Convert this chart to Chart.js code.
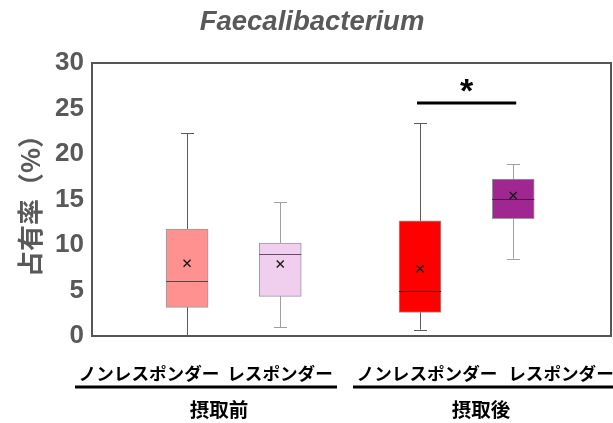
<!DOCTYPE html>
<html>
<head>
<meta charset="utf-8">
<script src="https://cdn.jsdelivr.net/npm/chart.js@4.4.0/dist/chart.umd.min.js"></script>
<style>
  html, body { margin: 0; padding: 0; background: #fff; }
  #wrap { width: 613px; height: 423px; }
</style>
</head>
<body>
<div id="wrap"><canvas id="myChart"></canvas></div>
<script>
const categories = ['ノンレスポンダー', 'レスポンダー', 'ノンレスポンダー', 'レスポンダー'];
const groups = ['摂取前', '摂取後'];
const groupIndex = [0, 0, 1, 1];
const minValues = [0.1, 0.95, 0.7, 8.5];
const q1Values = [3.15, 4.35, 2.6, 12.9];
const medianValues = [6.05, 9.0, 5.0, 15.05];
const q3Values = [11.75, 10.2, 12.65, 17.25];
const maxValues = [22.3, 14.7, 23.4, 18.9];
const meanValues = [8.0, 7.9, 7.4, 15.45];
const yTicks = [0, 5, 10, 15, 20, 25, 30];
const sigPair = [2, 3];
const sigLevel = 25.6;
const sigLabel = '*';

const boxColors = ['rgb(255, 145, 145)', 'rgb(240, 206, 238)', 'rgb(255, 0, 0)', 'rgb(160, 38, 145)'];
const whiskerColors = ['#5a5a5a', '#a0a0a0', '#5a5a5a', '#a0a0a0'];
const medianColors = ['#4a4a4a', '#6a4a6a', '#7a0000', '#5a1050'];
const gray = '#595959';

// box centres on a linear axis, with an extra half step between the two groups
const positions = categories.map((c, i) => i + 1 + groupIndex[i] * 0.5);

const boxPlugin = {
    id: 'boxExtras',
    beforeDatasetsDraw(chart) {
        const {ctx, scales: {x, y}} = chart;
        ctx.save();
        positions.forEach((p, i) => {
            const px = Math.round(x.getPixelForValue(p)) + 0.5;
            ctx.strokeStyle = whiskerColors[i];
            ctx.lineWidth = 1;
            ctx.beginPath();
            ctx.moveTo(px, y.getPixelForValue(maxValues[i]));
            ctx.lineTo(px, y.getPixelForValue(minValues[i]));
            [maxValues[i], minValues[i]].forEach(v => {
                const py = Math.round(y.getPixelForValue(v)) + 0.5;
                ctx.moveTo(px - 6.5, py);
                ctx.lineTo(px + 6.5, py);
            });
            ctx.stroke();
        });
        ctx.restore();
    },
    afterDatasetsDraw(chart) {
        const {ctx, chartArea, scales: {x, y}} = chart;
        ctx.save();
        positions.forEach((p, i) => {
            const px = x.getPixelForValue(p);
            const my = Math.round(y.getPixelForValue(medianValues[i])) + 0.5;
            ctx.strokeStyle = medianColors[i];
            ctx.lineWidth = 1;
            ctx.beginPath();
            ctx.moveTo(px - 21, my);
            ctx.lineTo(px + 21, my);
            ctx.stroke();
            // mean marker
            const ay = y.getPixelForValue(meanValues[i]);
            ctx.strokeStyle = '#1a1a1a';
            ctx.lineWidth = 1.4;
            ctx.beginPath();
            ctx.moveTo(px - 3.5, ay - 3.5);
            ctx.lineTo(px + 3.5, ay + 3.5);
            ctx.moveTo(px + 3.5, ay - 3.5);
            ctx.lineTo(px - 3.5, ay + 3.5);
            ctx.stroke();
        });

        // significance bar
        const sx1 = x.getPixelForValue(positions[sigPair[0]]) - 3;
        const sx2 = x.getPixelForValue(positions[sigPair[1]]) + 3;
        const sy = y.getPixelForValue(sigLevel);
        ctx.strokeStyle = '#000';
        ctx.lineWidth = 3;
        ctx.beginPath();
        ctx.moveTo(sx1, sy);
        ctx.lineTo(sx2, sy);
        ctx.stroke();
        ctx.fillStyle = '#000';
        ctx.font = 'bold 34px "Liberation Sans", Arial, sans-serif';
        ctx.textAlign = 'center';
        ctx.textBaseline = 'middle';
        ctx.fillText(sigLabel, (sx1 + sx2) / 2, sy - 10);

        // frame
        ctx.strokeStyle = '#555';
        ctx.lineWidth = 2;
        ctx.strokeRect(chartArea.left, chartArea.top, chartArea.right - chartArea.left - 1, chartArea.bottom - chartArea.top);
        ctx.restore();
    },
    afterDraw(chart) {
        const {ctx} = chart;
        ctx.save();
        ctx.fillStyle = '#000';
        ctx.textAlign = 'center';
        ctx.textBaseline = 'middle';
        ctx.font = 'bold 17.6px "Noto Sans CJK JP", sans-serif';
        const labelX = [149, 280, 427, 561];
        categories.forEach((c, i) => ctx.fillText(c, labelX[i], 373));
        ctx.font = 'bold 19.5px "Noto Sans CJK JP", sans-serif';
        const groupX = [219, 481];
        const lineSpan = [[75, 337], [353, 613]];
        groups.forEach((g, i) => {
            ctx.fillText(g, groupX[i], 410);
            ctx.fillRect(lineSpan[i][0], 385.5, lineSpan[i][1] - lineSpan[i][0], 3);
        });
        ctx.restore();
    }
};

const data = {
    datasets: [{
        label: 'box',
        data: positions.map((p, i) => ({x: p, y: [q1Values[i], q3Values[i]]})),
        backgroundColor: boxColors,
        borderColor: '#9a9a9a',
        borderWidth: 1,
        borderSkipped: false,
        barThickness: 42
    }]
};

const config = {
    type: 'bar',
    data: data,
    options: {
        responsive: true,
        maintainAspectRatio: false,
        animation: false,
        layout: {
            padding: {left: 12, right: 1, top: 0, bottom: 87}
        },
        plugins: {
            legend: {display: false},
            tooltip: {enabled: false},
            title: {
                display: true,
                text: 'Faecalibacterium',
                color: gray,
                align: 'center',
                font: {family: '"Liberation Sans", sans-serif', size: 27.5, weight: 'bold', style: 'italic'},
                padding: {top: 6, bottom: 24}
            }
        },
        scales: {
            x: {
                type: 'linear',
                display: false,
                offset: false,
                min: -0.02,
                max: 5.56
            },
            y: {
                min: 0,
                max: 30,
                afterBuildTicks: axis => { axis.ticks = yTicks.map(v => ({value: v})); },
                afterFit: axis => { axis.width = 80; },
                grid: {display: false, drawTicks: false},
                border: {display: false},
                ticks: {
                    color: gray,
                    padding: 8,
                    font: {family: '"Liberation Sans", Arial, sans-serif', size: 26, weight: 'bold'}
                },
                title: {
                    display: true,
                    text: '占有率（%）',
                    color: gray,
                    padding: {top: 3, bottom: 0},
                    font: {family: '"Noto Sans CJK JP", sans-serif', size: 26, weight: 'bold'}
                }
            }
        }
    },
    plugins: [boxPlugin]
};

const ctx = document.getElementById('myChart').getContext('2d');
new Chart(ctx, config);
</script>
</body>
</html>
